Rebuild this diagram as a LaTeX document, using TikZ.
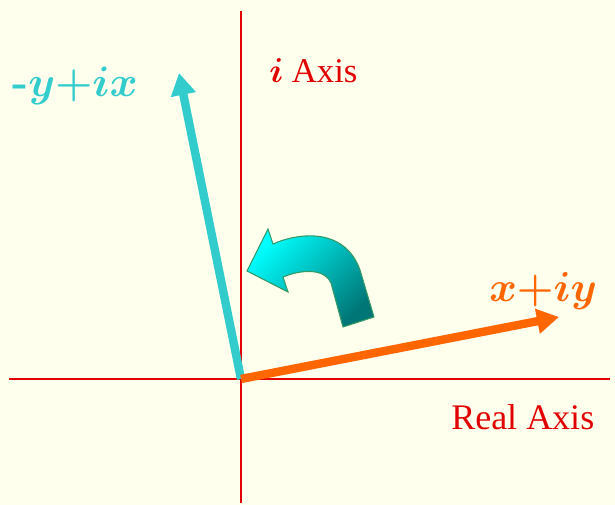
\RequirePackage{fix-cm}
\documentclass[tikz,border=0pt]{standalone}
\usepackage{amsmath}
\usepackage{fontspec}
\newfontfamily\timesfont{Liberation Serif}
\usetikzlibrary{arrows.meta}
\definecolor{bg}{RGB}{255,255,238}
\definecolor{axisred}{RGB}{225,0,0}
\definecolor{cyanvec}{RGB}{51,204,204}
\definecolor{orangevec}{RGB}{255,102,0}
\definecolor{tealdark}{RGB}{0,118,118}
\definecolor{tealbright}{RGB}{0,255,255}
\definecolor{tealedge}{RGB}{51,153,102}
\begin{document}
\begin{tikzpicture}[x=0.75pt,y=-0.75pt,
  axis/.style={draw=axisred,line width=1.9pt},
  vec/.style={line width=6.3pt,-{Triangle[length=16.5pt,width=18pt]}},
  lbl/.style={inner sep=0pt,anchor=base west}]
\fill[bg] (0,0) rectangle (615,505);
\useasboundingbox (0,0) rectangle (615,505);
\coordinate (L) at (9,379);
\coordinate (R) at (610,379);
\coordinate (T) at (241,11);
\coordinate (B) at (241,503);
\coordinate (O) at (241,379);
\coordinate (P) at (559,317);
\coordinate (Q) at (179,73);
\draw[axis] (L) -- (R);
\draw[axis] (T) -- (B);
\draw[vec,draw=cyanvec,fill=cyanvec] (O) -- (Q);
\draw[vec,draw=orangevec,fill=orangevec] (O) -- (P);
\shadedraw[top color=tealbright,bottom color=tealdark,shading angle=45,draw=tealedge,line width=0.8pt,line join=miter]
  (247,271) -- (268,229) -- (273,244)
  .. controls (300,232) and (345,228) .. (360,270)
  -- (374,317) -- (343,327) -- (331,283)
  .. controls (326,270) and (305,268) .. (283,277)
  -- (288,292) -- cycle;
\node[lbl,text=cyanvec,font=\fontsize{32}{34}\selectfont] (lq) at (12,97) {\textbf{-}$\boldsymbol{y{+}ix}$};
\node[lbl,text=orangevec,font=\fontsize{31.5}{34}\selectfont] (lp) at (489,302) {$\boldsymbol{x{+}iy}$};
\node[lbl,text=axisred,font=\timesfont\fontsize{26}{28}\selectfont] (li) at (269,83) {$\boldsymbol{i}$ Axis};
\node[lbl,text=axisred,font=\timesfont\fontsize{27}{29}\selectfont] (lr) at (451,430) {Real Axis};
\end{tikzpicture}
\end{document}
